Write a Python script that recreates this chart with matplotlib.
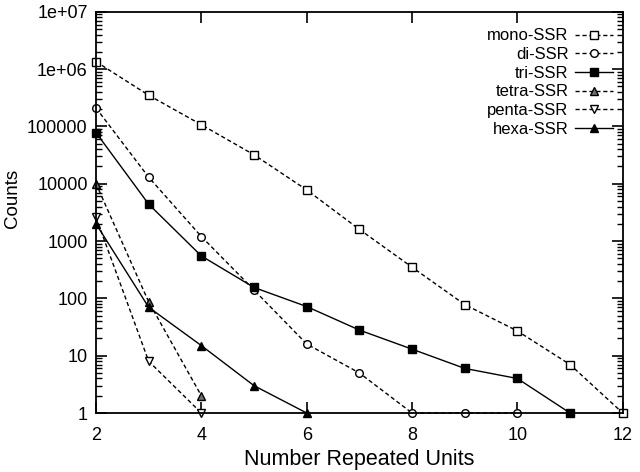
import matplotlib
matplotlib.use("Agg")
import matplotlib.pyplot as plt
from matplotlib.ticker import LogLocator, NullFormatter

plt.rcParams['font.family'] = ['Liberation Sans', 'DejaVu Sans']

mono_x = [2, 3, 4, 5, 6, 7, 8, 9, 10, 11, 12]
mono_y = [1.35e6, 3.5e5, 1.07e5, 3.2e4, 7.8e3, 1.6e3, 350, 78, 27, 7, 1]
di_x = [2, 3, 4, 5, 6, 7, 8, 9, 10]
di_y = [2.1e5, 1.3e4, 1.2e3, 140, 16, 5, 1, 1, 1]
tri_x = [2, 3, 4, 5, 6, 7, 8, 9, 10, 11]
tri_y = [7.8e4, 4400, 550, 155, 72, 28, 13, 6, 4, 1]
tetra_x = [2, 3, 4]
tetra_y = [1.0e4, 87, 2]
penta_x = [2, 3, 4]
penta_y = [2600, 8, 1]
hexa_x = [2, 3, 4, 5, 6]
hexa_y = [2000, 70, 15, 3, 1]

yticks = [1, 10, 100, 1000, 10000, 100000, 1e6, 1e7]
ytick_labels = ['1', '10', '100', '1000', '10000', '100000', '1e+06', '1e+07']
xticks = [2, 4, 6, 8, 10, 12]

fig = plt.figure(figsize=(6.4, 4.72), dpi=100)
ax = fig.add_axes([0.15, 0.125, 0.823, 0.85])

dash = (0, (3, 2))
common = dict(color='black', linewidth=1.0, markersize=5.5, clip_on=False, markeredgewidth=1.0)
ax.plot(mono_x, mono_y, linestyle=dash, marker='s', markerfacecolor='white', label='mono-SSR', **common)
ax.plot(di_x, di_y, linestyle=dash, marker='o', markerfacecolor='white', label='di-SSR', **common)
ax.plot(tri_x, tri_y, linestyle='-', marker='s', markerfacecolor='black', label='tri-SSR', **common)
ax.plot(tetra_x, tetra_y, linestyle=dash, marker='^', markerfacecolor='#707070', label='tetra-SSR', **common)
ax.plot(penta_x, penta_y, linestyle=dash, marker='v', markerfacecolor='white', label='penta-SSR', **common)
ax.plot(hexa_x, hexa_y, linestyle='-', marker='^', markerfacecolor='black', label='hexa-SSR', **common)

ax.set_yscale('log')
ax.set_ylim(1, 1e7)
ax.set_xlim(2, 12)
ax.set_yticks(yticks)
ax.set_yticklabels(ytick_labels)
ax.yaxis.set_minor_locator(LogLocator(base=10, subs=range(2, 10), numticks=20))
ax.yaxis.set_minor_formatter(NullFormatter())
ax.set_xticks(xticks)

ax.tick_params(axis='both', which='major', direction='in', length=8, width=1.2,
               top=True, right=True, labelsize=13)
ax.tick_params(axis='y', which='major', pad=6)
ax.tick_params(axis='x', which='major', pad=10)
ax.tick_params(axis='both', which='minor', direction='in', length=4, width=1.0,
               top=True, right=True)
for s in ax.spines.values():
    s.set_linewidth(1.3)

ax.set_xlabel('Number Repeated Units', fontsize=15.5)
ax.xaxis.set_label_coords(0.5, -0.09)
ax.set_ylabel('Counts', fontsize=13.5)
ax.yaxis.set_label_coords(-0.142, 0.535)

leg = ax.legend(loc='upper right', markerfirst=False, frameon=False, fontsize=12,
                handlelength=2.3, labelspacing=0.22, handletextpad=0.4,
                borderaxespad=0.0, bbox_to_anchor=(0.995, 0.975))

fig.savefig('out.png', dpi=100)
